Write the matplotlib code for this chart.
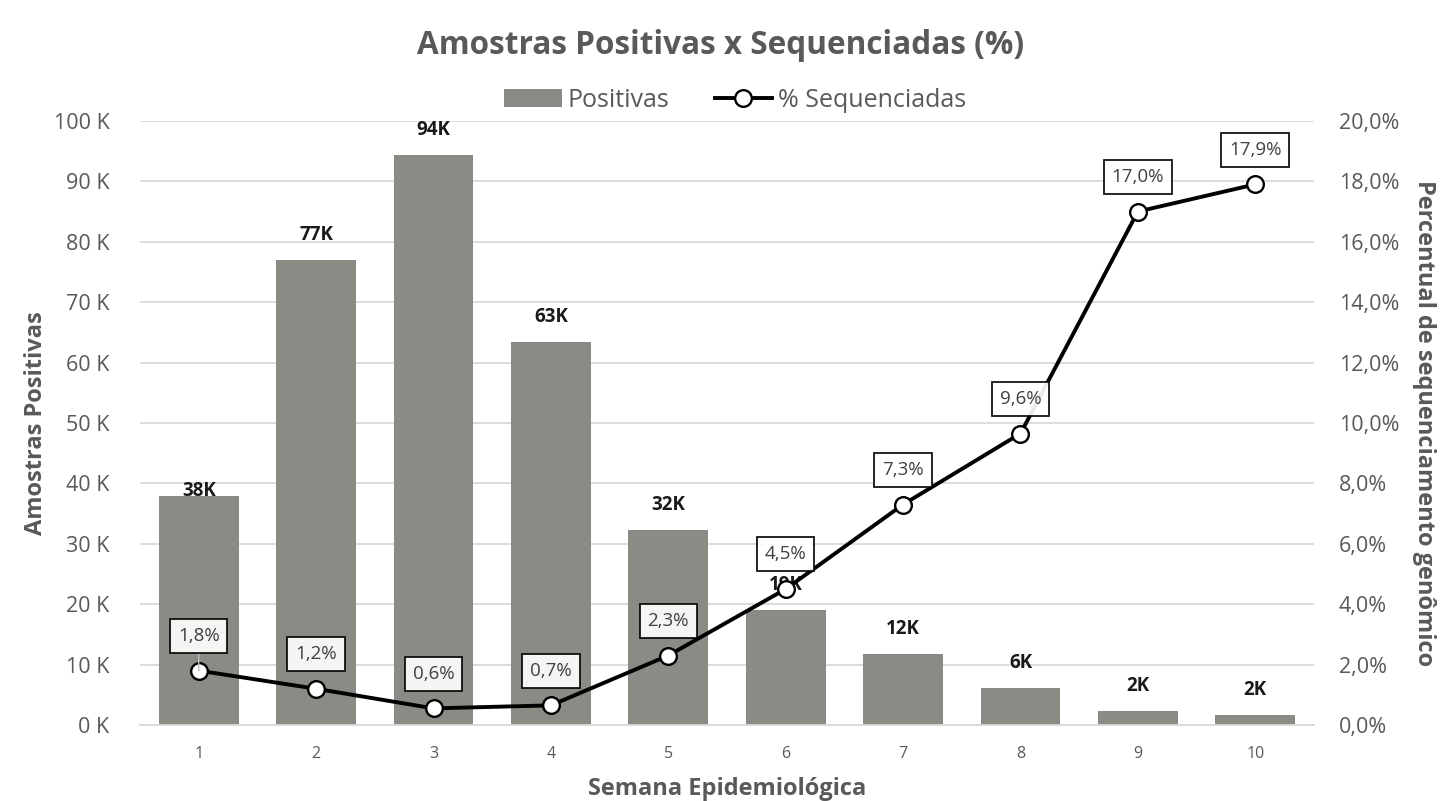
import matplotlib
matplotlib.use("Agg")
import matplotlib.pyplot as plt
from matplotlib.ticker import FuncFormatter, MultipleLocator

plt.rcParams['font.family'] = ['Open Sans', 'DejaVu Sans']

semanas = [1, 2, 3, 4, 5, 6, 7, 8, 9, 10]
positivas = [37900, 76900, 94300, 63400, 32300, 19100, 11800, 6100, 2300, 1700]
pct_seq = [1.8, 1.2, 0.55, 0.65, 2.3, 4.5, 7.3, 9.65, 17.0, 17.9]
pct_labels = ["1,8%", "1,2%", "0,6%", "0,7%", "2,3%", "4,5%", "7,3%", "9,6%", "17,0%", "17,9%"]
bar_labels = ["38K", "77K", "94K", "63K", "32K", "19K", "12K", "6K", "2K", "2K"]

GRAY = "#595959"
BAR = "#898b84"

fig = plt.figure(figsize=(14.42, 8.01), dpi=100)
ax = fig.add_axes([0.0971, 0.0949, 0.9112 - 0.0971, 0.849 - 0.0949])
ax2 = ax.twinx()

bars = ax.bar(semanas, positivas, width=0.68, color=BAR, zorder=2, label="Positivas")
ax.set_xlim(0.5, 10.5)
ax.set_ylim(0, 100000)
ax.yaxis.set_major_locator(MultipleLocator(10000))
ax.yaxis.set_major_formatter(FuncFormatter(lambda v, p: f"{int(round(v/1000))} K"))
ax.grid(axis='y', color="#d9d9d9", linewidth=1.3, zorder=0)
ax.set_axisbelow(True)
ax.set_xticks(semanas)
ax.tick_params(axis='x', labelsize=11.5, colors=GRAY, length=0, pad=15)
ax.tick_params(axis='y', labelsize=15.5, colors=GRAY, length=0, pad=22)
for s in ["top", "right", "left"]:
    ax.spines[s].set_visible(False)
    ax2.spines[s].set_visible(False)
ax.spines["bottom"].set_color("#d9d9d9")
ax.spines["bottom"].set_linewidth(1.3)
ax2.spines["bottom"].set_visible(False)

# bar labels (first label sits on its bar)
for i, (x, v, t) in enumerate(zip(semanas, positivas, bar_labels)):
    off = 25 if i != 0 else 5
    ax.annotate(t, (x, v), xytext=(0, off * 0.72), textcoords="offset points",
                ha="center", va="center", fontsize=13.5, fontweight="bold", color="#1a1a1a", zorder=5)

ax2.set_ylim(0, 20)
ax2.yaxis.set_major_locator(MultipleLocator(2))
ax2.yaxis.set_major_formatter(FuncFormatter(lambda v, p: f"{v:.1f}%".replace(".", ",")))
ax2.tick_params(axis='y', labelsize=15.5, colors=GRAY, length=0, pad=18)
line, = ax2.plot(semanas, pct_seq, color="black", linewidth=2.8, marker="o", markersize=12,
                 markerfacecolor="white", markeredgecolor="black", markeredgewidth=1.7,
                 zorder=4, label="% Sequenciadas")

for i, (x, v, t) in enumerate(zip(semanas, pct_seq, pct_labels)):
    kw = {}
    if i == 0:
        kw["arrowprops"] = dict(arrowstyle="-", color="#bfbfbf", linewidth=1, shrinkA=0, shrinkB=0)
    ax2.annotate(t, (x, v), xytext=(0, 25), textcoords="offset points", ha="center", va="center",
                 fontsize=13.5, color="#404040", zorder=6,
                 bbox=dict(boxstyle="square,pad=0.42", facecolor="white", alpha=0.92,
                           edgecolor="black", linewidth=1.3), **kw)

ax.set_ylabel("Amostras Positivas", fontsize=17, fontweight="bold", color=GRAY, labelpad=4)
ax2.set_ylabel("Percentual de sequenciamento genômico", fontsize=17, fontweight="bold",
               color=GRAY, rotation=270, labelpad=26)
ax.set_xlabel("Semana Epidemiológica", fontsize=17, fontweight="bold", color=GRAY, labelpad=11)

fig.text(0.5, 0.943, "Amostras Positivas x Sequenciadas (%)", ha="center", va="center",
         fontsize=22.7, fontweight="bold", color=GRAY)

leg = fig.legend(handles=[bars, line], loc="center", bbox_to_anchor=(0.51, 0.875), ncol=2,
                 frameon=False, fontsize=18, labelcolor=GRAY, handlelength=2.3,
                 columnspacing=1.8, handletextpad=0.25)

fig.savefig("out.png", dpi=100)
